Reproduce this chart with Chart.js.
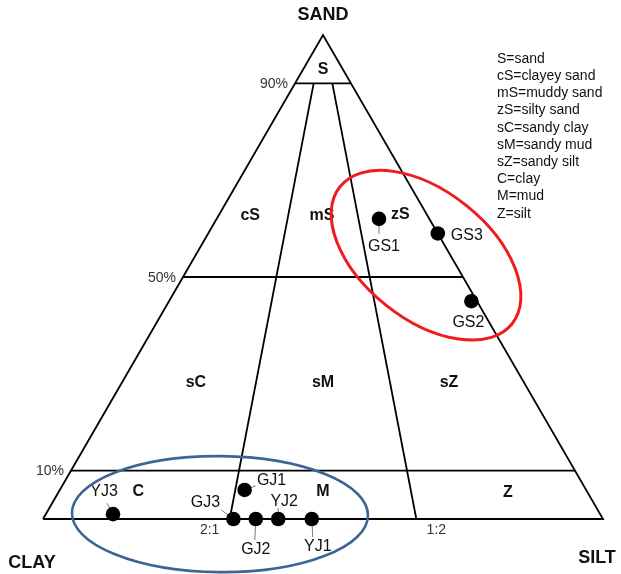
<!DOCTYPE html>
<html>
<head>
<meta charset="utf-8">
<script src="https://cdn.jsdelivr.net/npm/chart.js@4.4.1/dist/chart.umd.min.js"></script>
<style>
  html, body { margin: 0; padding: 0; background: #ffffff; }
  #wrap { width: 621px; height: 574px; }
</style>
</head>
<body>
<div id="wrap"><canvas id="c" width="621" height="574"></canvas></div>
<script>
// Sample compositions (percent sand / silt / clay)
const sampleNames = ['GS1', 'GS2', 'GS3', 'YJ1', 'YJ2', 'YJ3', 'GJ1', 'GJ2', 'GJ3'];
const sandPct     = [62,    45,    59,    0,     0,     1,     6,     0,     0];
const siltPct     = [29,    54,    41,    48,    42,    12,    33,    38,    34];
const clayPct     = [9,     1,     0,     52,    58,    87,    61,    62,    66];

// Folk classification boundaries
const sandLevels  = [90, 50, 10];
const levelLabels = ['90%', '50%', '10%'];
const ratioSiltShare = [1 / 3, 2 / 3];      // clay:silt = 2:1 and 1:2
const ratioLabels    = ['2:1', '1:2'];

// Class codes and their key
const classCodes = ['S', 'cS', 'mS', 'zS', 'sC', 'sM', 'sZ', 'C', 'M', 'Z'];
const classNames = ['sand', 'clayey sand', 'muddy sand', 'silty sand', 'sandy clay',
                    'sandy mud', 'sandy silt', 'clay', 'mud', 'silt'];

// ternary (sand, silt, clay) -> plot units: x across the base, y = sand
function toXY(sand, silt, clay) {
  const t = sand + silt + clay;
  const s = sand / t * 100, z = silt / t * 100;
  return { x: z + s / 2, y: s };
}

// class label anchors in plot units
const classAnchors = {
  S:  { x: 50.0, y: 92.8 }, cS: { x: 37.0, y: 62.6 }, mS: { x: 49.8, y: 62.6 },
  zS: { x: 63.8, y: 62.8 }, sC: { x: 27.3, y: 28.1 }, sM: { x: 50.0, y: 28.1 },
  sZ: { x: 72.5, y: 28.1 }, C:  { x: 17.0, y: 5.6 },  M:  { x: 50.0, y: 5.6 },
  Z:  { x: 83.0, y: 5.4 }
};

// sample label placement (pixel offsets from the marker) and leader tips
const labelOffset = {
  GS1: [5, 28], GS2: [-3, 21], GS3: [29, 2], YJ1: [6, 28], YJ2: [6, -17],
  YJ3: [-9, -23], GJ1: [27, -9], GJ2: [0, 31], GJ3: [-28, -16]
};
const leaderTip = {
  GS1: [0, 15], YJ3: [-6, -11], GJ3: [-12, -9], GJ1: [11, -4],
  YJ2: [0, -11], GJ2: [-1, 21], YJ1: [1, 18]
};

// grouping ellipses: centre in plot units, radii in px, rotation in degrees
const groupRings = [
  { cx: 68.4, cy: 54.5, rx: 110, ry: 64, rot: 38.5, color: '#ee1c1c', width: 3 },
  { cx: 31.6, cy: 1.0,  rx: 148, ry: 58, rot: 0.5,  color: '#3c6594', width: 2.6 }
];

const points = sampleNames.map((n, i) => toXY(sandPct[i], siltPct[i], clayPct[i]));

// boundary lines
const lineSets = [];
lineSets.push([{ x: 0, y: 0 }, { x: 100, y: 0 }, { x: 50, y: 100 }, { x: 0, y: 0 }]);
sandLevels.forEach(s => lineSets.push([{ x: s / 2, y: s }, { x: 100 - s / 2, y: s }]));
ratioSiltShare.forEach(r => {
  const top = toXY(90, 10 * r, 10 * (1 - r));
  lineSets.push([{ x: r * 100, y: 0 }, top]);
});

const datasets = [{
  label: 'samples',
  data: points,
  showLine: false,
  pointRadius: 7.3,
  pointHoverRadius: 7.3,
  pointBackgroundColor: '#000',
  pointBorderColor: '#000',
  pointBorderWidth: 0,
  order: 0
}];
lineSets.forEach((pts, i) => datasets.push({
  label: 'edge' + i,
  data: pts,
  showLine: true,
  borderColor: '#000',
  borderWidth: 1.8,
  pointRadius: 0,
  fill: false,
  tension: 0,
  order: 1
}));

const FONT = '"Liberation Sans", Arial, sans-serif';

const annotate = {
  id: 'annotate',
  beforeDatasetsDraw(chart) {
    const { ctx, scales: { x, y } } = chart;
    ctx.save();
    ctx.strokeStyle = '#7a7a7a';
    ctx.lineWidth = 1;
    sampleNames.forEach((n, i) => {
      const t = leaderTip[n];
      if (!t) return;
      const px = x.getPixelForValue(points[i].x), py = y.getPixelForValue(points[i].y);
      ctx.beginPath();
      ctx.moveTo(px, py);
      ctx.lineTo(px + t[0], py + t[1]);
      ctx.stroke();
    });
    ctx.restore();
  },
  afterDatasetsDraw(chart) {
    const { ctx, scales: { x, y } } = chart;
    const X = v => x.getPixelForValue(v), Y = v => y.getPixelForValue(v);
    ctx.save();
    ctx.textAlign = 'center';
    ctx.textBaseline = 'middle';
    ctx.fillStyle = '#111';

    // corner titles
    ctx.font = 'bold 18px ' + FONT;
    ctx.fillText('SAND', X(50), Y(100) - 20);
    ctx.fillText('CLAY', X(0) - 11, Y(0) + 44);
    ctx.fillText('SILT', X(100) - 6, Y(0) + 39);

    // sand level labels at the left edge
    ctx.font = '14px ' + FONT;
    ctx.fillStyle = '#333';
    ctx.textAlign = 'right';
    sandLevels.forEach((s, i) => ctx.fillText(levelLabels[i], X(s / 2) - 7, Y(s) + 1));

    // ratio labels under the base
    ctx.textAlign = 'center';
    ratioSiltShare.forEach((r, i) => {
      const off = i === 0 ? -20 : 20;
      ctx.fillText(ratioLabels[i], X(r * 100) + off, Y(0) + 11);
    });

    // class codes
    ctx.fillStyle = '#111';
    ctx.font = 'bold 16px ' + FONT;
    classCodes.forEach(c => {
      const a = classAnchors[c];
      ctx.fillText(c, X(a.x), Y(a.y));
    });

    // sample names
    ctx.font = '16px ' + FONT;
    sampleNames.forEach((n, i) => {
      const o = labelOffset[n];
      ctx.fillText(n, X(points[i].x) + o[0], Y(points[i].y) + o[1]);
    });

    // key
    ctx.textAlign = 'left';
    ctx.font = '14px ' + FONT;
    classCodes.forEach((c, i) => ctx.fillText(c + '=' + classNames[i], 497, 59 + i * 17.2));

    // grouping ellipses
    groupRings.forEach(g => {
      ctx.beginPath();
      ctx.ellipse(X(g.cx), Y(g.cy), g.rx, g.ry, g.rot * Math.PI / 180, 0, Math.PI * 2);
      ctx.strokeStyle = g.color;
      ctx.lineWidth = g.width;
      ctx.stroke();
    });
    ctx.restore();
  }
};

new Chart(document.getElementById('c'), {
  type: 'scatter',
  data: { datasets },
  options: {
    responsive: false,
    animation: false,
    layout: { padding: 0, autoPadding: false },
    events: [],
    plugins: { legend: { display: false }, tooltip: { enabled: false } },
    scales: {
      x: { type: 'linear', display: false, min: -43 / 5.6, max: 578 / 5.6 },
      y: { type: 'linear', display: false, min: -55 / 4.84, max: 519 / 4.84 }
    }
  },
  plugins: [annotate]
});
</script>
</body>
</html>
